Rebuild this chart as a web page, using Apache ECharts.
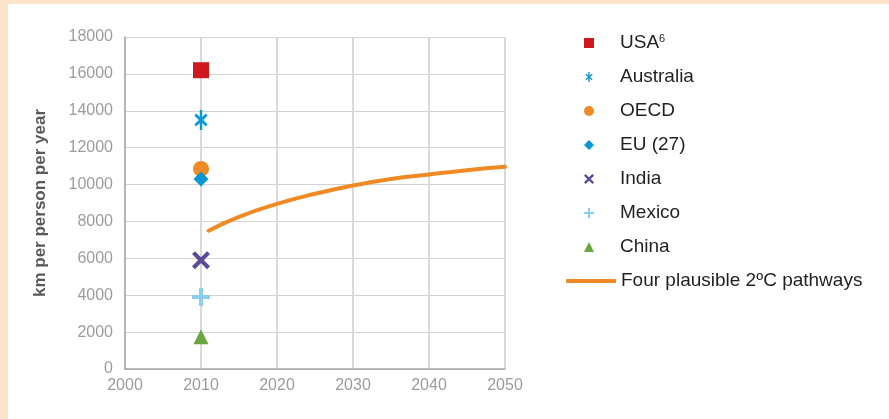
<!DOCTYPE html>
<html>
<head>
<meta charset="utf-8">
<script src="https://cdn.jsdelivr.net/npm/echarts@6/dist/echarts.min.js"></script>
<style>
  html, body { margin: 0; padding: 0; background: #fee3cb; }
  #chart { position: absolute; left: 8px; top: 4px; width: 881px; height: 415px; background: #fff; }
</style>
</head>
<body>
<div id="chart"></div>
<script>
// data
var countries = ['USA', 'Australia', 'OECD', 'EU (27)', 'India', 'Mexico', 'China'];
var year2010 = [16200, 13500, 10850, 10300, 5900, 3900, 1750];
var pathwayYears = [2011, 2015, 2020, 2025, 2030, 2035, 2040, 2045, 2050];
var pathwayKm = [7500, 8250, 8950, 9500, 9950, 10300, 10550, 10780, 10960];
var yTicks = [0, 18000, 2000];
var xTicks = [2000, 2050, 10];

var colors = ['#d0191f', '#0d96d3', '#f08a24', '#0a95d5', '#5a4a98', '#8dcdee', '#69a541'];
var asterisk = 'path://M8.5,0H11.5V22H8.5Z M4.04,3.79L18.04,15.79L15.96,18.21L1.96,6.21Z M1.96,15.79L15.96,3.79L18.04,6.21L4.04,18.21Z';
var cross = 'path://M3.56,0.44L19.56,16.44L16.44,19.56L0.44,3.56Z M0.44,16.44L16.44,0.44L19.56,3.56L3.56,19.56Z';
var plus = 'path://M7,0H11V7H18V11H11V18H7V11H0V7H7Z';
var symbols = ['rect', asterisk, 'circle', 'diamond', cross, plus, 'triangle'];
var sizes = [16, [18, 20], 16, 15, 18, 18, 15];

var myChart = echarts.init(document.getElementById('chart'));

var series = countries.map(function (name, i) {
  return {
    name: name,
    type: 'scatter',
    symbol: symbols[i],
    symbolSize: sizes[i],
    symbolKeepAspect: true,
    itemStyle: { color: colors[i], opacity: 1 },
    data: [[2010, year2010[i]]]
  };
});
series.push({
  name: 'Four plausible 2ºC pathways',
  type: 'line',
  smooth: true,
  showSymbol: false,
  symbol: 'none',
  lineStyle: { color: '#f08a24', width: 4, cap: 'round' },
  itemStyle: { color: '#f08a24' },
  data: pathwayYears.map(function (y, i) { return [y, pathwayKm[i]]; })
});

var plain = function (v) { return String(v); };

var option = {
  animation: false,
  grid: { left: 117, top: 33, right: 384, bottom: 50 },
  legend: [
    {
      data: countries,
      orient: 'vertical',
      left: 571,
      top: 24,
      itemWidth: 10,
      itemHeight: 10,
      itemGap: 14,
      selectedMode: false,
      formatter: function (name) {
        return name === 'USA' ? 'USA{sup|6}' : name;
      },
      textStyle: {
        fontFamily: 'Liberation Sans',
        fontSize: 19,
        lineHeight: 20,
        color: '#231f20',
        padding: [0, 0, 0, 21],
        rich: {
          sup: { fontSize: 11, verticalAlign: 'top', lineHeight: 12, color: '#231f20' }
        }
      }
    },
    {
      data: [{ name: 'Four plausible 2ºC pathways', icon: 'roundRect' }],
      orient: 'vertical',
      left: 553,
      top: 262,
      itemWidth: 50,
      itemHeight: 4,
      selectedMode: false,
      textStyle: {
        fontFamily: 'Liberation Sans',
        fontSize: 19,
        lineHeight: 20,
        color: '#231f20'
      }
    }
  ],
  xAxis: {
    type: 'value',
    min: xTicks[0],
    max: xTicks[1],
    interval: xTicks[2],
    axisLine: { show: true, lineStyle: { color: '#a7a7a7', width: 1.5 } },
    axisTick: { show: false },
    axisLabel: { color: '#9c9c9c', fontSize: 16, fontFamily: 'Liberation Sans', margin: 9, formatter: plain },
    splitLine: { show: true, lineStyle: { color: '#dadada', width: 2 } }
  },
  yAxis: {
    type: 'value',
    min: yTicks[0],
    max: yTicks[1],
    interval: yTicks[2],
    name: 'km per person per year',
    nameLocation: 'middle',
    nameGap: 76,
    nameTextStyle: { color: '#58595b', fontSize: 17, fontWeight: 'bold', fontFamily: 'Liberation Sans' },
    axisLine: { show: true, lineStyle: { color: '#a7a7a7', width: 1.5 } },
    axisTick: { show: false },
    axisLabel: { color: '#9c9c9c', fontSize: 16, fontFamily: 'Liberation Sans', margin: 12, formatter: plain },
    splitLine: { show: true, lineStyle: { color: '#d3d3d3', width: 1 } }
  },
  series: series
};
myChart.setOption(option);
</script>
</body>
</html>
